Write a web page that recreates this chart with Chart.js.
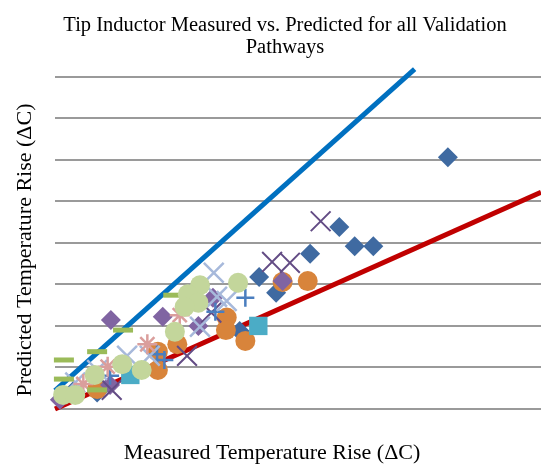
<!DOCTYPE html>
<html>
<head>
<meta charset="utf-8">
<script src="https://cdn.jsdelivr.net/npm/chart.js@4/dist/chart.umd.min.js"></script>
<style>
  html, body { margin: 0; padding: 0; background: #fff; overflow: hidden; }
  canvas { display: block; }
</style>
</head>
<body>
<canvas id="tipChart" width="541" height="464"></canvas>
<script>
// Тексты
const titleLines = ['Tip Inductor Measured vs. Predicted for all Validation', 'Pathways'];
const xTitle = 'Measured Temperature Rise (\u0394C)';
const yTitle = 'Predicted Temperature Rise (\u0394C)';

// Шкалы
const xRange = [0, 60];
const yRange = [0, 40];
const yStep = 5;

// Серии
const blueDiamondX = [48.5, 35.1, 37.0, 39.3, 31.5, 25.2, 27.3, 22.8, 5.2, 2.3];
const blueDiamondY = [30.3, 21.9, 19.6, 19.6, 18.7, 15.9, 14.0, 9.4, 2.0, 2.2];

const orangeCircleX = [28.1, 31.2, 21.2, 21.1, 23.5, 15.1, 12.7, 12.7, 5.2];
const orangeCircleY = [15.3, 15.4, 11.0, 9.5, 8.2, 7.8, 6.9, 4.7, 2.4];

const purpleDiamondX = [6.9, 13.3, 19.5, 17.7, 28.1, 6.8, 0.6];
const purpleDiamondY = [10.7, 11.1, 13.4, 10.0, 15.4, 2.9, 1.1];

const darkXX = [32.8, 26.8, 29.0, 19.3, 16.3, 7.0];
const darkXY = [22.6, 17.7, 17.6, 11.6, 6.4, 2.3];

const tealSquareX = [25.1, 9.3];
const tealSquareY = [10.0, 4.1];

const plusX = [23.5, 19.8, 12.6, 13.5, 6.8];
const plusY = [13.4, 11.7, 6.6, 5.9, 4.0];

const lightXX = [19.6, 20.0, 21.2, 17.9, 11.7, 8.9, 5.2, 2.5];
const lightXY = [16.4, 13.5, 13.0, 9.9, 6.4, 6.4, 4.7, 3.2];

const starX = [11.4, 6.5, 3.5, 15.4];
const starY = [7.8, 5.1, 3.0, 11.3];

const dashX = [14.6, 8.4, 5.2, 1.1, 1.1, 5.2];
const dashY = [13.7, 9.5, 6.9, 5.9, 3.6, 2.3];

const greenCircleX = [17.9, 22.6, 16.4, 17.7, 16.0, 14.8, 8.3, 10.7, 4.9, 1.0, 2.5];
const greenCircleY = [14.9, 15.2, 13.8, 12.8, 12.3, 9.3, 5.4, 4.7, 4.1, 1.7, 1.7];

// Линии
const upperLineX = [0, 44.4];
const upperLineY = [2.2, 40.9];
const lowerLineX = [0, 60];
const lowerLineY = [0, 26.1];

function pts(xs, ys) {
    return xs.map((x, i) => ({ x: x, y: ys[i] }));
}

function markers(xs, ys, style, radius, color, width) {
    const stroked = ['cross', 'crossRot', 'star', 'line'].includes(style);
    return {
        data: pts(xs, ys),
        showLine: false,
        pointStyle: style,
        pointRadius: radius,
        pointBackgroundColor: color,
        pointBorderColor: color,
        pointBorderWidth: stroked ? width : 0,
        clip: false
    };
}

function trend(xs, ys, color) {
    return {
        data: pts(xs, ys),
        showLine: true,
        borderColor: color,
        borderWidth: 5,
        pointRadius: 0,
        clip: false
    };
}

// Рисуем заголовки сами, чтобы поставить их как в оригинале
const excelTexts = {
    id: 'excelTexts',
    afterDraw(chart) {
        const ctx = chart.ctx;
        ctx.save();
        ctx.fillStyle = '#000';
        ctx.textAlign = 'center';
        ctx.textBaseline = 'alphabetic';
        ctx.font = "20.5px 'Liberation Serif'";
        titleLines.forEach((t, i) => ctx.fillText(t, 285, 30.5 + i * 22));
        ctx.font = "22px 'Liberation Serif'";
        ctx.fillText(xTitle, 272, 459);
        ctx.translate(31, 250);
        ctx.rotate(-Math.PI / 2);
        ctx.fillText(yTitle, 0, 0);
        ctx.restore();
    }
};

const ctx = document.getElementById('tipChart').getContext('2d');

// Первая серия рисуется поверх остальных
new Chart(ctx, {
    type: 'scatter',
    data: {
        datasets: [
            markers(greenCircleX, greenCircleY, 'circle', 10, '#C3D69B'),
            markers(dashX, dashY, 'line', 10, '#9BBB59', 5),
            markers(starX, starY, 'star', 10, '#DA9E9C', 2.5),
            markers(lightXX, lightXY, 'crossRot', 14, '#A7B9DB', 2.5),
            markers(plusX, plusY, 'cross', 9, '#4A7EBF', 2.5),
            markers(tealSquareX, tealSquareY, 'rect', 13, '#4BACC6'),
            markers(darkXX, darkXY, 'crossRot', 14, '#634C85', 2),
            markers(purpleDiamondX, purpleDiamondY, 'rectRot', 10, '#8064A2'),
            markers(orangeCircleX, orangeCircleY, 'circle', 10, '#D8843B'),
            markers(blueDiamondX, blueDiamondY, 'rectRot', 10, '#3F6AA1'),
            trend(upperLineX, upperLineY, '#0070C0'),
            trend(lowerLineX, lowerLineY, '#C00000')
        ]
    },
    options: {
        responsive: false,
        animation: false,
        events: [],
        layout: {
            autoPadding: false,
            padding: { left: 55, right: 0, top: 76.7, bottom: 55 }
        },
        plugins: {
            legend: { display: false },
            title: { display: false },
            tooltip: { enabled: false }
        },
        scales: {
            x: {
                display: false,
                min: xRange[0],
                max: xRange[1]
            },
            y: {
                min: yRange[0],
                max: yRange[1],
                ticks: { display: false, stepSize: yStep },
                grid: { color: '#9A9A9A', lineWidth: 2, drawTicks: false },
                border: { display: false }
            }
        }
    },
    plugins: [excelTexts]
});
</script>
</body>
</html>
